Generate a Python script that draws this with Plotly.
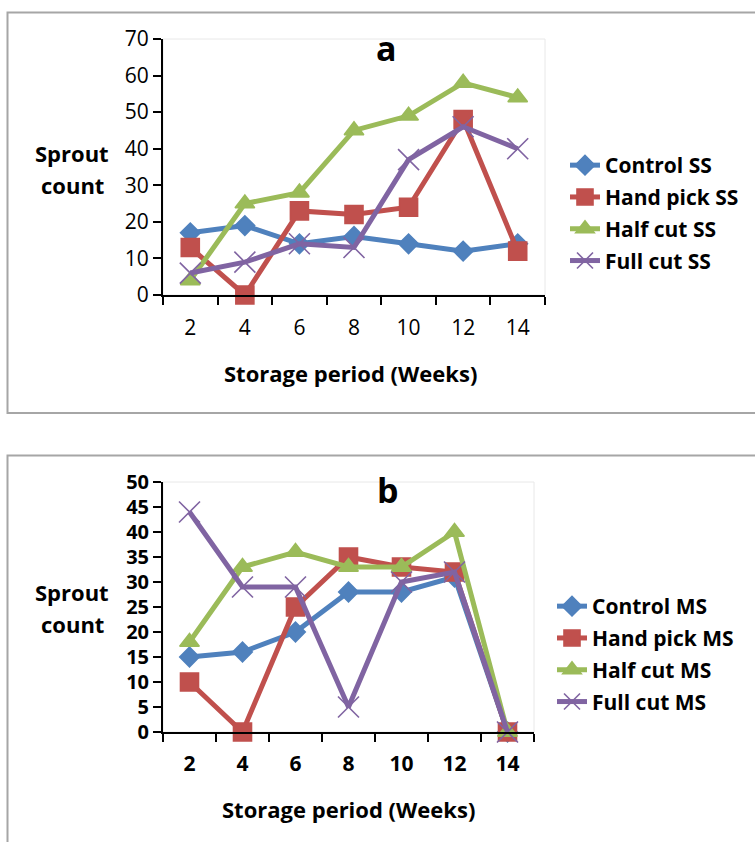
import plotly.graph_objects as go

weeks = ["2", "4", "6", "8", "10", "12", "14"]

# Panel a (SS)
control_ss = [17, 19, 14, 16, 14, 12, 14]
handpick_ss = [13, 0, 23, 22, 24, 48, 12]
halfcut_ss = [4, 25, 28, 45, 49, 58, 54]
fullcut_ss = [6, 9, 14, 13, 37, 46, 40]

# Panel b (MS)
control_ms = [15, 16, 20, 28, 28, 31, 0]
handpick_ms = [10, 0, 25, 35, 33, 32, 0]
halfcut_ms = [18, 33, 36, 33, 33, 40, 0]
fullcut_ms = [44, 29, 29, 5, 30, 32, 0]

names_ss = ["Control SS", "Hand pick SS", "Half cut SS", "Full cut SS"]
names_ms = ["Control MS", "Hand pick MS", "Half cut MS", "Full cut MS"]

colors = ["#4F81BD", "#C0504D", "#9BBB59", "#8064A2"]
symbols = ["diamond", "square", "triangle-up", "x-thin"]
sizes = [15, 18, 17, 21]

W, H = 755, 842
FONT = "Open Sans"


def px(x):
    return x / W


def py(y):
    return 1 - y / H


fig = go.Figure()

series_a = [control_ss, handpick_ss, halfcut_ss, fullcut_ss]
series_b = [control_ms, handpick_ms, halfcut_ms, fullcut_ms]

for i, vals in enumerate(series_a):
    fig.add_trace(go.Scatter(
        x=weeks, y=vals, name=names_ss[i], mode="lines+markers",
        line=dict(color=colors[i], width=5),
        marker=dict(symbol=symbols[i], size=sizes[i], color=colors[i],
                    line=dict(color=colors[i], width=1.6)),
        xaxis="x", yaxis="y", legend="legend", legendgroup="a%d" % i,
        cliponaxis=False,
    ))

for i, vals in enumerate(series_b):
    fig.add_trace(go.Scatter(
        x=weeks, y=vals, name=names_ms[i], mode="lines+markers",
        line=dict(color=colors[i], width=5),
        marker=dict(symbol=symbols[i], size=sizes[i], color=colors[i],
                    line=dict(color=colors[i], width=1.6)),
        xaxis="x2", yaxis="y2", legend="legend2", legendgroup="b%d" % i,
        cliponaxis=False,
    ))

axis_common = dict(showgrid=False, zeroline=False, showline=True,
                   linecolor="black", linewidth=2, ticks="outside",
                   ticklen=8, tickwidth=2, tickcolor="black", automargin=False)

fig.update_layout(
    template="none",
    width=W, height=H, autosize=False,
    margin=dict(l=0, r=0, t=0, b=0, pad=0),
    paper_bgcolor="white", plot_bgcolor="white",
    font=dict(family=FONT, color="black"),
    xaxis=dict(domain=[px(163), px(545)], anchor="y", type="category",
               tickson="boundaries", range=[-0.5, 6.5],
               tickfont=dict(size=21), ticklabelstandoff=13, **axis_common),
    yaxis=dict(domain=[py(295), py(39)], anchor="x", range=[0, 70],
               tickvals=[0, 10, 20, 30, 40, 50, 60, 70],
               tickfont=dict(size=21), **axis_common),
    xaxis2=dict(domain=[px(163), px(534)], anchor="y2", type="category",
                tickson="boundaries", range=[-0.5, 6.5],
                tickfont=dict(size=21, weight="bold"), ticklabelstandoff=12,
                **axis_common),
    yaxis2=dict(domain=[py(732), py(482)], anchor="x2", range=[0, 50],
                tickvals=[0, 5, 10, 15, 20, 25, 30, 35, 40, 45, 50],
                tickfont=dict(size=20, weight="bold"), **axis_common),
    legend=dict(x=px(565), y=py(145), xanchor="left", yanchor="top",
                font=dict(size=21, weight="bold"), tracegroupgap=1.5,
                bgcolor="rgba(0,0,0,0)", itemwidth=30),
    legend2=dict(x=px(552), y=py(586), xanchor="left", yanchor="top",
                 font=dict(size=21, weight="bold"), tracegroupgap=1.5,
                 bgcolor="rgba(0,0,0,0)", itemwidth=30),
    showlegend=True,
)

annots = [
    ("a", 386, 48, 34),
    ("b", 388, 490, 34),
    ("Sprout", 72, 153, 22),
    ("count", 72, 185, 22),
    ("Sprout", 72, 592, 22),
    ("count", 72, 624, 22),
    ("Storage period (Weeks)", 350, 373, 22),
    ("Storage period (Weeks)", 348, 809, 22),
]
for text, x, y, s in annots:
    fig.add_annotation(text=text, x=px(x), y=py(y), xref="paper", yref="paper",
                       showarrow=False, xanchor="center", yanchor="middle",
                       font=dict(size=s, weight="bold", family=FONT, color="black"))

# outer frames
fig.add_shape(type="rect", xref="paper", yref="paper",
              x0=px(7.5), x1=px(800), y0=py(413), y1=py(12.5),
              line=dict(color="#a6a6a6", width=2), layer="below")
fig.add_shape(type="rect", xref="paper", yref="paper",
              x0=px(7.5), x1=px(800), y0=py(900), y1=py(455.5),
              line=dict(color="#a6a6a6", width=2), layer="below")
# faint plot-area borders
fig.add_shape(type="rect", xref="x domain", yref="y domain", x0=0, x1=1, y0=0, y1=1,
              line=dict(color="#e8e8e8", width=1), layer="below")
fig.add_shape(type="rect", xref="x2 domain", yref="y2 domain", x0=0, x1=1, y0=0, y1=1,
              line=dict(color="#e8e8e8", width=1), layer="below")

fig.write_html("out.html", config={"displayModeBar": False},
               post_script="document.body.style.margin='0';document.body.style.padding='0';")
